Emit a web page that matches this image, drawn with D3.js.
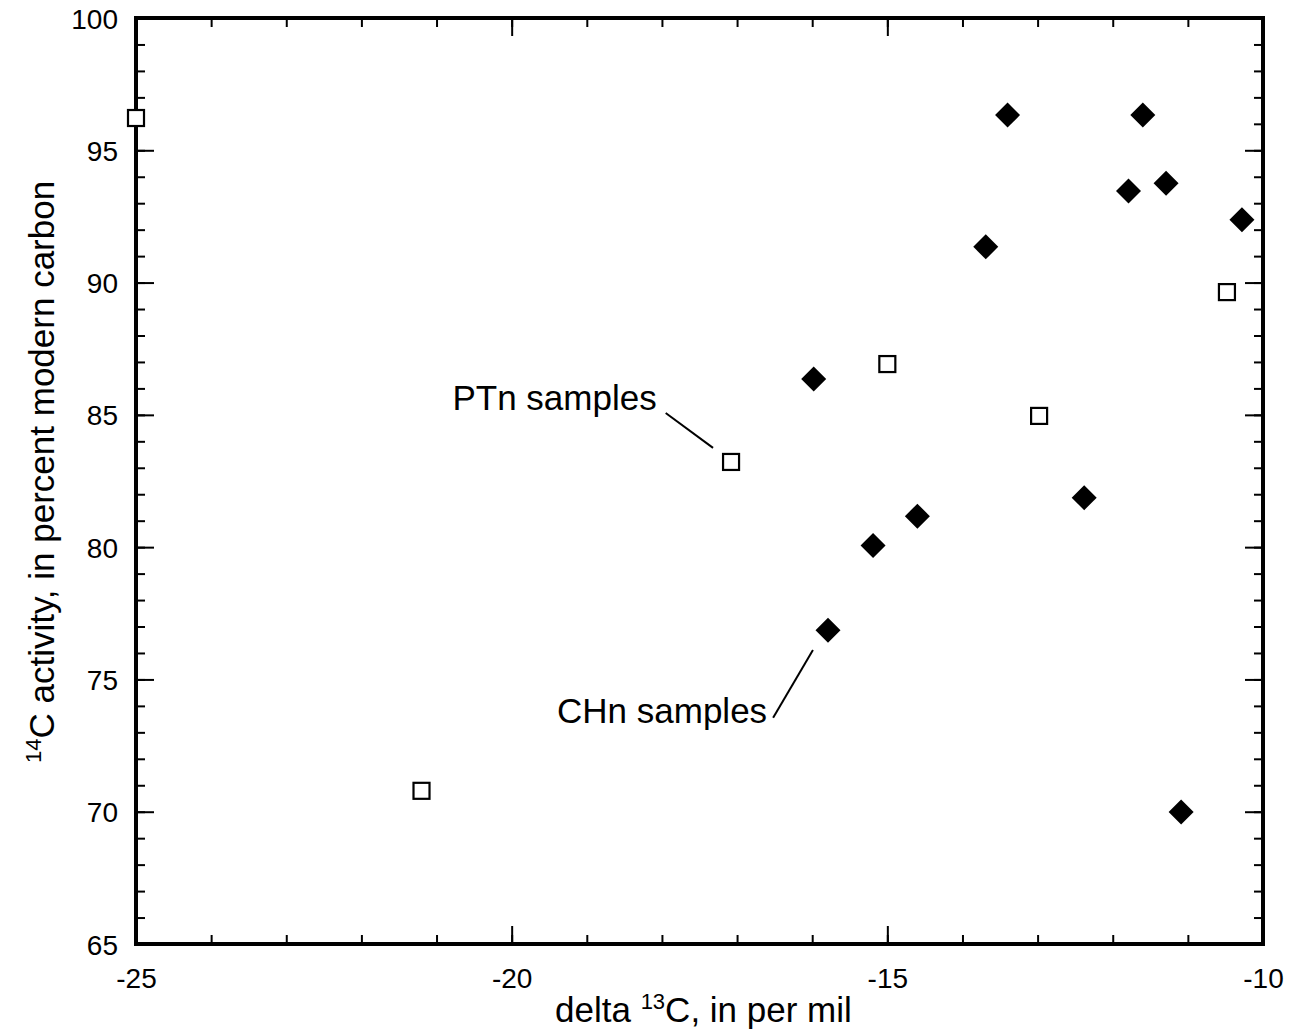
<!DOCTYPE html>
<html lang="en">
<head>
<meta charset="utf-8">
<title>14C activity vs delta 13C</title>
<script src="https://d3js.org/d3.v7.min.js"></script>
<style>
  body { margin: 0; background: #fff; }
  text { font-family: "Liberation Sans", Arial, Helvetica, sans-serif; fill: #000; }
</style>
</head>
<body>
<div id="chart"></div>
<script>
// PTn samples (open squares): delta 13C, 14C activity
let ptnX = [-25.0, -21.2, -17.08, -15.0, -12.98, -10.48];
let ptnY = [96.22, 70.79, 83.22, 86.92, 84.96, 89.64];

// CHn samples (filled diamonds)
let chnX = [-13.4, -11.6, -11.79, -11.29, -10.28, -13.69, -15.98, -12.38, -14.6, -15.19, -15.79, -11.09];
let chnY = [96.33, 96.33, 93.46, 93.75, 92.37, 91.35, 86.36, 81.87, 81.17, 80.06, 76.86, 69.99];

// axis ticks
let xMajor = [-25, -20, -15, -10];
let yMajor = [65, 70, 75, 80, 85, 90, 95, 100];

// annotation labels, in data units
let labels = [
  {text: "PTn samples", x: -18.07, y: 85.19, line: [[-17.95, 85.07], [-17.32, 83.75]]},
  {text: "CHn samples", x: -16.6, y: 73.36, line: [[-16.52, 73.55], [-15.99, 76.11]]}
];

let margin = {top: 18, right: 29, bottom: 91, left: 136};
let outer_width = 1292, outer_height = 1035;
let inner_width = outer_width - margin.left - margin.right;
let inner_height = outer_height - margin.top - margin.bottom;

let svg = d3.select("#chart").append("svg")
  .attr("width", outer_width)
  .attr("height", outer_height)
  .append("g")
  .attr("transform", "translate(" + margin.left + "," + margin.top + ")");

let xScale = d3.scaleLinear().domain([-25, -10]).range([0, inner_width]);
let yScale = d3.scaleLinear().domain([65, 100]).range([inner_height, 0]);

let xMinor = d3.range(-25, -9, 1);
let yMinor = d3.range(65, 101, 1);

// plain hyphen for negatives, like the original
let fmt = function(d) { return String(d); };

// draw ticks on all four sides, pointing inward
function tickGroup(axis, transform) {
  let g = svg.append("g").attr("transform", transform).call(axis);
  g.select(".domain").remove();
  g.selectAll(".tick line").attr("stroke", "#000").attr("stroke-width", 2);
  return g;
}

tickGroup(d3.axisBottom(xScale).tickValues(xMinor).tickSize(-9).tickFormat(""), "translate(0," + inner_height + ")");
tickGroup(d3.axisTop(xScale).tickValues(xMinor).tickSize(-9).tickFormat(""), "translate(0,0)");
tickGroup(d3.axisLeft(yScale).tickValues(yMinor).tickSize(-9).tickFormat(""), "translate(0,0)");
tickGroup(d3.axisRight(yScale).tickValues(yMinor).tickSize(-9).tickFormat(""), "translate(" + inner_width + ",0)");

let xAx = tickGroup(d3.axisBottom(xScale).tickValues(xMajor).tickSize(-18).tickFormat(fmt), "translate(0," + inner_height + ")");
tickGroup(d3.axisTop(xScale).tickValues(xMajor).tickSize(-18).tickFormat(""), "translate(0,0)");
let yAx = tickGroup(d3.axisLeft(yScale).tickValues(yMajor).tickSize(-18).tickFormat(fmt), "translate(0,0)");
tickGroup(d3.axisRight(yScale).tickValues(yMajor).tickSize(-18).tickFormat(""), "translate(" + inner_width + ",0)");

xAx.selectAll(".tick text")
  .attr("y", 44).attr("dy", 0)
  .style("font-size", "28px")
  .style("font-family", "'Liberation Sans', Arial, sans-serif")
  .attr("fill", "#000");
yAx.selectAll(".tick text")
  .attr("x", -18).attr("dy", "0.36em")
  .style("font-size", "28px")
  .style("font-family", "'Liberation Sans', Arial, sans-serif")
  .attr("fill", "#000");

// frame
svg.append("rect")
  .attr("x", 0).attr("y", 0)
  .attr("width", inner_width).attr("height", inner_height)
  .attr("fill", "none")
  .attr("stroke", "#000")
  .attr("stroke-width", 4);

// PTn squares
let ptn = ptnX.map(function(d, i) { return {x: d, y: ptnY[i]}; });
svg.selectAll(".ptn").data(ptn).enter()
  .append("rect")
  .attr("class", "ptn")
  .attr("x", function(d) { return xScale(d.x) - 8; })
  .attr("y", function(d) { return yScale(d.y) - 8; })
  .attr("width", 16).attr("height", 16)
  .attr("fill", "#fff")
  .attr("stroke", "#000")
  .attr("stroke-width", 2.2);

// CHn diamonds
let chn = chnX.map(function(d, i) { return {x: d, y: chnY[i]}; });
svg.selectAll(".chn").data(chn).enter()
  .append("path")
  .attr("class", "chn")
  .attr("transform", function(d) { return "translate(" + xScale(d.x) + "," + yScale(d.y) + ")"; })
  .attr("d", "M0,-12.5L12.5,0L0,12.5L-12.5,0Z")
  .attr("fill", "#000");

// annotations
labels.forEach(function(l) {
  svg.append("text")
    .attr("x", xScale(l.x)).attr("y", yScale(l.y))
    .attr("text-anchor", "end")
    .style("font-size", "35px")
    .text(l.text);
  svg.append("line")
    .attr("x1", xScale(l.line[0][0])).attr("y1", yScale(l.line[0][1]))
    .attr("x2", xScale(l.line[1][0])).attr("y2", yScale(l.line[1][1]))
    .attr("stroke", "#000").attr("stroke-width", 2);
});

// axis titles
let xt = svg.append("text")
  .attr("x", 555 - margin.left).attr("y", inner_height + 78)
  .attr("text-anchor", "start")
  .style("font-size", "35px");
xt.append("tspan").text("delta ");
xt.append("tspan").attr("dy", -13).style("font-size", "22px").text("13");
xt.append("tspan").attr("dy", 13).text("C, in per mil");

let yt = svg.append("text")
  .attr("transform", "translate(" + (-82) + "," + (763 - margin.top) + ") rotate(-90)")
  .attr("text-anchor", "start")
  .style("font-size", "35px");
yt.append("tspan").attr("dy", -13).style("font-size", "22px").text("14");
yt.append("tspan").attr("dy", 13).text("C activity, in percent modern carbon");
</script>
</body>
</html>
